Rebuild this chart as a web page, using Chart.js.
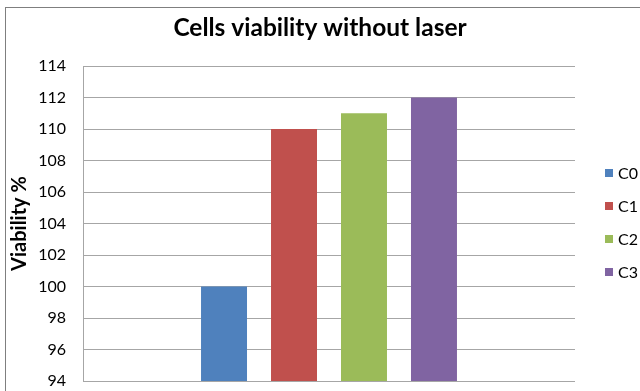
<!DOCTYPE html>
<html>
<head>
<meta charset="utf-8">
<title>Cells viability without laser</title>
<script src="https://cdn.jsdelivr.net/npm/chart.js@4.4.1/dist/chart.umd.min.js"></script>
<style>
    html, body { margin: 0; padding: 0; background: #fff; }
    #wrap { width: 640px; height: 391px; }
</style>
</head>
<body>
<div id="wrap"><canvas id="viabilityChart" width="640" height="391"></canvas></div>
<script>
// chart data
var groups = ['C0', 'C1', 'C2', 'C3'];
var viability = [100, 110, 111, 112];
var yTicks = [94, 96, 98, 100, 102, 104, 106, 108, 110, 112, 114];
var barColors = ['#4F81BD', '#C0504D', '#9BBB59', '#8064A2'];

var fontFamily = 'Lato, "Open Sans", sans-serif';

// grey frame round the whole chart (cut at right/bottom like the picture)
var chartFrame = {
    id: 'chartFrame',
    afterDraw: function(chart) {
        var ctx = chart.ctx;
        ctx.save();
        ctx.strokeStyle = '#7f7f7f';
        ctx.lineWidth = 1;
        ctx.strokeRect(5.5, 7.5, 700, 500);
        ctx.restore();
    }
};

// legend at the right, Excel style: small squares, wide spacing
var sideLegend = {
    id: 'sideLegend',
    afterDraw: function(chart) {
        var ctx = chart.ctx;
        var sets = chart.data.datasets;
        var step = 33;
        var y0 = 173;
        ctx.save();
        ctx.font = '16px ' + fontFamily;
        ctx.textBaseline = 'middle';
        sets.forEach(function(ds, i) {
            var y = y0 + i * step;
            ctx.fillStyle = ds.backgroundColor;
            ctx.fillRect(605, y - 4, 8, 8);
            ctx.fillStyle = '#000';
            ctx.fillText(ds.label, 618, y + 1);
        });
        ctx.restore();
    }
};

var datasets = groups.map(function(name, i) {
    return {
        label: name,
        data: [viability[i]],
        backgroundColor: barColors[i],
        borderWidth: 0,
        categoryPercentage: 0.569,
        barPercentage: 0.657
    };
});

var ctx = document.getElementById('viabilityChart').getContext('2d');
var chart = new Chart(ctx, {
    type: 'bar',
    data: {
        labels: [''],
        datasets: datasets
    },
    plugins: [chartFrame, sideLegend],
    options: {
        responsive: false,
        animation: false,
        layout: {
            padding: { left: 8, right: 8, top: 0, bottom: 10 }
        },
        plugins: {
            title: {
                display: true,
                text: 'Cells viability without laser',
                color: '#000',
                font: { family: fontFamily, size: 24.5, weight: 'bold' },
                padding: { top: 13, bottom: 23.6 }
            },
            legend: { display: false },
            tooltip: { enabled: false }
        },
        scales: {
            x: {
                display: false
            },
            y: {
                min: yTicks[0],
                max: yTicks[yTicks.length - 1],
                afterFit: function(scale) {
                    scale.width = 75;
                    scale.paddingTop = 0;
                    scale.paddingBottom = 0;
                },
                ticks: {
                    stepSize: yTicks[1] - yTicks[0],
                    padding: 17,
                    color: '#000',
                    font: { family: fontFamily, size: 16 }
                },
                grid: { color: '#a6a6a6', drawTicks: false },
                border: { display: true, color: '#a6a6a6' },
                title: {
                    display: true,
                    text: 'Viability %',
                    color: '#000',
                    font: { family: fontFamily, size: 20, weight: 'bold' },
                    padding: { top: 0, bottom: 2 }
                }
            },
            // empty axis on the right, only keeps room for the legend
            legendSpace: {
                type: 'linear',
                position: 'right',
                grid: { display: false },
                border: { display: false },
                ticks: { display: false },
                afterFit: function(scale) {
                    scale.width = 57;
                    scale.paddingTop = 0;
                    scale.paddingBottom = 0;
                }
            }
        }
    }
});
</script>
</body>
</html>
